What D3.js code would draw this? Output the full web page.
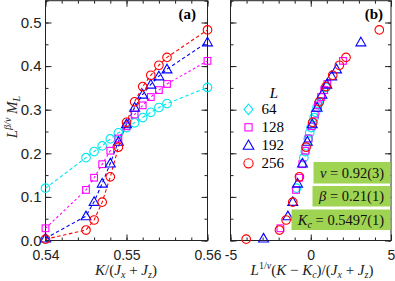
<!DOCTYPE html>
<html>
<head>
<meta charset="utf-8">
<script src="https://cdn.jsdelivr.net/npm/d3@7"></script>
<style>
	body{ margin:0; background:#fff; }
	svg{ display:block; }
	.tick text{ font-family:"Liberation Sans", Arial, sans-serif; fill:#222; }
	.serif{ font-family:"Liberation Serif", "Times New Roman", serif; }
</style>
</head>
<body>
<svg id="chart" width="395" height="281"></svg>
<script>
// coupling values K/(Jx+Jz)
const kValues = [0.540, 0.545, 0.546, 0.547, 0.548, 0.549, 0.550, 0.551, 0.552, 0.553, 0.554, 0.555, 0.560];
const sizes = [64, 128, 192, 256];
const mL64  = [0.120, 0.190, 0.204, 0.217, 0.233, 0.247, 0.259, 0.270, 0.282, 0.294, 0.305, 0.314, 0.351];
const mL128 = [0.028, 0.116, 0.144, 0.175, 0.206, 0.234, 0.262, 0.289, 0.310, 0.329, 0.345, 0.359, 0.412];
const mL192 = [0.005, 0.056, 0.089, 0.131, 0.177, 0.227, 0.267, 0.305, 0.335, 0.358, 0.377, 0.393, 0.455];
const mL256 = [0.003, 0.024, 0.047, 0.088, 0.146, 0.214, 0.271, 0.318, 0.353, 0.379, 0.402, 0.420, 0.483];
const colors = ["#00e8f0", "#ff00ff", "#0000ff", "#ff0000"];
const symbols = ["circle", "square", "triangle", "circle"];
const legendSymbols = ["diamond", "square", "triangle", "circle"];

// fit parameters shown in the boxes
const nu = 0.92;
const Kc = 0.5497;
const fitLabels = ["ν = 0.92(3)", "β = 0.21(1)", "K_c = 0.5497(1)"];

const xTicksA = [0.54, 0.55, 0.56];
const xTicksB = [-5, 0, 5];
const yTicks = [0.0, 0.1, 0.2, 0.3, 0.4, 0.5];

let series = sizes.map((L, i) => ({
	L: L,
	color: colors[i],
	symbol: symbols[i],
	values: [mL64, mL128, mL192, mL256][i]
}));

let svg = d3.select("#chart");

let y = d3.scaleLinear().domain([0, 0.55]).range([240.5, 0.7]);
let xA = d3.scaleLinear().domain([0.54, 0.56]).range([45.5, 207.5]);
let xB = d3.scaleLinear().domain([-5, 5]).range([230.5, 391]);

function drawFrame(x, xTicks, xMinorStep, xFormat){
	let g = svg.append("g");
	let [x0, x1] = x.range();
	let [y0, y1] = y.range();
	let xMinor = d3.range(x.domain()[0], x.domain()[1] + xMinorStep/2, xMinorStep);
	let yMinor = d3.range(0, 0.551, 0.05);

	// minor ticks
	g.append("g").attr("transform", "translate(0,"+y0+")")
		.call(d3.axisBottom(x).tickValues(xMinor).tickSize(-3).tickSizeOuter(0).tickFormat(""));
	g.append("g").attr("transform", "translate(0,"+y1+")")
		.call(d3.axisTop(x).tickValues(xMinor).tickSize(-3).tickSizeOuter(0).tickFormat(""));
	g.append("g").attr("transform", "translate("+x0+",0)")
		.call(d3.axisLeft(y).tickValues(yMinor).tickSize(-3).tickSizeOuter(0).tickFormat(""));
	g.append("g").attr("transform", "translate("+x1+",0)")
		.call(d3.axisRight(y).tickValues(yMinor).tickSize(-3).tickSizeOuter(0).tickFormat(""));

	// major ticks
	g.append("g").attr("transform", "translate(0,"+y0+")")
		.call(d3.axisBottom(x).tickValues(xTicks).tickSize(-6).tickSizeOuter(0).tickPadding(10).tickFormat(xFormat))
		.selectAll("text").style("font-size", "14px");
	g.append("g").attr("transform", "translate(0,"+y1+")")
		.call(d3.axisTop(x).tickValues(xTicks).tickSize(-6).tickSizeOuter(0).tickFormat(""));
	g.append("g").attr("transform", "translate("+x1+",0)")
		.call(d3.axisRight(y).tickValues(yTicks).tickSize(-6).tickSizeOuter(0).tickFormat(""));

	g.selectAll(".domain").remove();
	g.selectAll(".tick line").attr("stroke", "#222");

	g.append("rect")
		.attr("x", x0).attr("y", y1)
		.attr("width", x1 - x0).attr("height", y0 - y1)
		.attr("fill", "none").attr("stroke", "#222").attr("stroke-width", 1);
	return g;
}

function drawMarker(sel, symbol, color, size){
	if (symbol == "circle"){
		sel.append("circle").attr("r", size)
			.attr("fill", "none").attr("stroke", color).attr("stroke-width", 1.1);
	}
	else if (symbol == "square"){
		sel.append("rect").attr("x", -size*0.78).attr("y", -size*0.78)
			.attr("width", size*1.56).attr("height", size*1.56)
			.attr("fill", "none").attr("stroke", color).attr("stroke-width", 1.1);
	}
	else if (symbol == "triangle"){
		let s = size*1.15;
		sel.append("path").attr("d", "M0,"+(-s)+"L"+(s*1.0)+","+(s*0.75)+"L"+(-s*1.0)+","+(s*0.75)+"Z")
			.attr("fill", "none").attr("stroke", color).attr("stroke-width", 1.1);
	}
	else if (symbol == "diamond"){
		let s = size*1.15;
		sel.append("path").attr("d", "M0,"+(-s)+"L"+(s*0.85)+",0L0,"+s+"L"+(-s*0.85)+",0Z")
			.attr("fill", "none").attr("stroke", color).attr("stroke-width", 1.1);
	}
}

// ---------- panel (a) ----------
drawFrame(xA, xTicksA, 0.002, d3.format(".2f"));
svg.append("g").call(g => g.append("g")
	.attr("transform", "translate(45.5,0)")
	.call(d3.axisLeft(y).tickValues(yTicks).tickSize(-6).tickSizeOuter(0).tickPadding(4).tickFormat(d3.format(".1f")))
	.call(a => a.select(".domain").remove())
	.call(a => a.selectAll("text").style("font-size", "15px"))
	.call(a => a.selectAll(".tick line").attr("stroke", "#222")));

let lineA = d3.line().x((d, i) => xA(kValues[i])).y(d => y(d));

series.forEach(s => {
	svg.append("path")
		.attr("d", lineA(s.values))
		.attr("fill", "none")
		.attr("stroke", s.color)
		.attr("stroke-width", 1.1)
		.attr("stroke-dasharray", s.L == 128 ? "2.5,2.5" : "3.5,2.5");
});
series.forEach(s => {
	svg.append("g").selectAll("g")
		.data(s.values)
		.join("g")
		.attr("transform", (d, i) => "translate("+xA(kValues[i])+","+y(d)+")")
		.each(function(){ drawMarker(d3.select(this), s.symbol, s.color, 4.3); });
});

svg.append("text").attr("class", "serif")
	.attr("x", 196).attr("y", 19).attr("text-anchor", "end")
	.style("font-size", "15px").style("font-weight", "bold").text("(a)");

// ---------- panel (b): scaling collapse ----------
drawFrame(xB, xTicksB, 1, d => (d < 0 ? "-" : "") + Math.abs(d));
svg.append("g").attr("transform", "translate(230.5,0)")
	.call(d3.axisLeft(y).tickValues(yTicks).tickSize(-6).tickSizeOuter(0).tickFormat(""))
	.call(a => a.select(".domain").remove())
	.call(a => a.selectAll(".tick line").attr("stroke", "#222"));

series.forEach(s => {
	let scale = Math.pow(s.L, 1/nu);
	svg.append("g").selectAll("g")
		.data(s.values)
		.join("g")
		.attr("transform", (d, i) => "translate("+xB(scale*(kValues[i]-Kc))+","+y(d)+")")
		.each(function(){ drawMarker(d3.select(this), s.symbol, s.color, 4.3); });
});

svg.append("text").attr("class", "serif")
	.attr("x", 383).attr("y", 19).attr("text-anchor", "end")
	.style("font-size", "15px").style("font-weight", "bold").text("(b)");

// legend
let legend = svg.append("g").attr("class", "serif");
legend.append("text").attr("x", 274).attr("y", 97.5).attr("text-anchor", "middle")
	.style("font-size", "15px").style("font-style", "italic").text("L");
sizes.forEach((L, i) => {
	let row = legend.append("g").attr("transform", "translate(248.5,"+(109.3 + i*18)+")");
	drawMarker(row, legendSymbols[i], colors[i], 4.6);
	row.append("text").attr("x", 13).attr("y", 5).style("font-size", "15px").text(L);
});

// fit boxes
let boxes = [
	{x: 313.5, y: 162, h: 21.5, label: fitLabels[0]},
	{x: 312.5, y: 186, h: 20.5, label: fitLabels[1]},
	{x: 291.5, y: 209.5, h: 20.5, label: fitLabels[2]}
];
boxes.forEach((b, i) => {
	svg.append("rect").attr("x", b.x).attr("y", b.y)
		.attr("width", 390.5 - b.x).attr("height", b.h)
		.attr("fill", "#9fd352");
	let t = svg.append("text").attr("class", "serif")
		.attr("x", (b.x + 390.5)/2).attr("y", b.y + b.h/2 + 5)
		.attr("text-anchor", "middle").style("font-size", "14.5px").attr("fill", "#111");
	if (i == 0){
		t.append("tspan").style("font-style", "italic").text("ν");
		t.append("tspan").text(" = 0.92(3)");
	}
	else if (i == 1){
		t.append("tspan").style("font-style", "italic").text("β");
		t.append("tspan").text(" = 0.21(1)");
	}
	else{
		t.append("tspan").style("font-style", "italic").text("K");
		t.append("tspan").style("font-style", "italic").style("font-size", "10px").attr("dy", 3).text("c");
		t.append("tspan").attr("dy", -3).text(" = 0.5497(1)");
	}
});

// ---------- axis titles ----------
let ty = svg.append("text").attr("class", "serif")
	.attr("transform", "translate(17,117) rotate(-90)")
	.attr("text-anchor", "middle").style("font-size", "15px").attr("fill", "#222");
ty.append("tspan").style("font-style", "italic").text("L");
ty.append("tspan").style("font-style", "italic").style("font-size", "10px").attr("dy", -6).text("β/ν");
ty.append("tspan").style("font-style", "italic").attr("dy", 6).text(" M");
ty.append("tspan").style("font-style", "italic").style("font-size", "10px").attr("dy", 3).text("L");

let tA = svg.append("text").attr("class", "serif")
	.attr("x", 126).attr("y", 275).attr("text-anchor", "middle")
	.style("font-size", "15px").attr("fill", "#222");
tA.append("tspan").style("font-style", "italic").text("K");
tA.append("tspan").text("/(");
tA.append("tspan").style("font-style", "italic").text("J");
tA.append("tspan").style("font-style", "italic").style("font-size", "10px").attr("dy", 3).text("x");
tA.append("tspan").attr("dy", -3).text(" + ");
tA.append("tspan").style("font-style", "italic").text("J");
tA.append("tspan").style("font-style", "italic").style("font-size", "10px").attr("dy", 3).text("z");
tA.append("tspan").attr("dy", -3).text(")");

let tB = svg.append("text").attr("class", "serif")
	.attr("x", 312).attr("y", 275).attr("text-anchor", "middle")
	.style("font-size", "15px").attr("fill", "#222");
tB.append("tspan").style("font-style", "italic").text("L");
tB.append("tspan").style("font-size", "10px").attr("dy", -6).text("1/");
tB.append("tspan").style("font-size", "10px").style("font-style", "italic").text("ν");
tB.append("tspan").attr("dy", 6).text("(");
tB.append("tspan").style("font-style", "italic").text("K");
tB.append("tspan").text(" − ");
tB.append("tspan").style("font-style", "italic").text("K");
tB.append("tspan").style("font-style", "italic").style("font-size", "10px").attr("dy", 3).text("c");
tB.append("tspan").attr("dy", -3).text(")/(");
tB.append("tspan").style("font-style", "italic").text("J");
tB.append("tspan").style("font-style", "italic").style("font-size", "10px").attr("dy", 3).text("x");
tB.append("tspan").attr("dy", -3).text(" + ");
tB.append("tspan").style("font-style", "italic").text("J");
tB.append("tspan").style("font-style", "italic").style("font-size", "10px").attr("dy", 3).text("z");
tB.append("tspan").attr("dy", -3).text(")");
</script>
</body>
</html>
